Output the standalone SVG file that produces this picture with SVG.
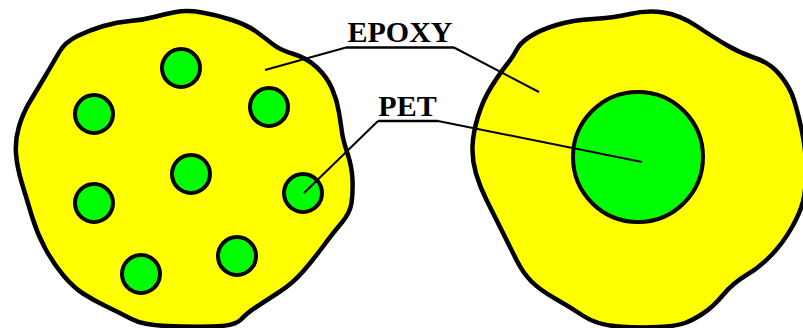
<svg xmlns="http://www.w3.org/2000/svg" width="803" height="328" viewBox="0 0 803 328">
<style>
.blob{fill:#ffff00;stroke:#000;stroke-width:4.5;stroke-linejoin:round}
.pet{fill:#00ff00;stroke:#000;stroke-width:4}
.lead{stroke:#000;stroke-width:2;fill:none}
.ul{stroke:#000;stroke-width:2.5}
.lbl{font-family:"Liberation Serif","Times New Roman",serif;font-weight:bold;font-size:30px;fill:#000}
</style>
<rect width="803" height="328" fill="#fff"/>
<g id="composite-dispersed">
<path class="blob" d="M59,52.5 Q65,42 77.5,36 Q90,30 103.5,26 Q117,22 130,21 Q143,20 154,17 Q165,14 176,12 Q187,10 202,12.5 Q217,15 232,20 Q247,25 256,31.5 Q265,38 272.5,44 Q280,50 293.5,54 Q307,58 317,67.5 Q327,77 332,88.5 Q337,100 339,112.5 Q341,125 342,132.5 Q343,140 347.5,153.5 Q352,167 352.5,180 Q353,193 351.5,203 Q350,213 341.5,223 Q333,233 323,246.5 Q313,260 303,271.5 Q293,283 280,291.5 Q267,300 257,306.5 Q247,313 241,319.5 Q235,326 212.5,326.5 Q190,327 166.5,326 Q143,325 131.5,319 Q120,313 106.5,306.5 Q93,300 83,293.5 Q73,287 63,275 Q53,263 45,248 Q37,233 32,216.5 Q27,200 22,183.5 Q17,167 16,153.5 Q15,140 19,126.5 Q23,113 30,101.5 Q37,90 45,76.5 Q53,63 59,52.5 Z"/>
<circle class="pet" cx="181" cy="68" r="19"/>
<circle class="pet" cx="94" cy="114" r="19"/>
<circle class="pet" cx="269" cy="107" r="19"/>
<circle class="pet" cx="191" cy="174" r="19"/>
<circle class="pet" cx="94" cy="203" r="19"/>
<circle class="pet" cx="303" cy="193" r="19"/>
<circle class="pet" cx="237" cy="256" r="19"/>
<circle class="pet" cx="141" cy="274" r="19"/>
</g>
<g id="composite-single">
<path class="blob" d="M516.5,50 Q520,43 530,36.5 Q540,30 556.5,25 Q573,20 593,19 Q613,18 630,14 Q647,10 663.5,12.5 Q680,15 696.5,26 Q713,37 726.5,45 Q740,53 755,58 Q770,63 780,75 Q790,87 794,100 Q798,113 802,131.5 Q806,150 806,170 Q806,190 803,201.5 Q800,213 791.5,228 Q783,243 771.5,255 Q760,267 746.5,275 Q733,283 723,295 Q713,307 703,313.5 Q693,320 685,323 Q677,326 658.5,327 Q640,328 618.5,326.5 Q597,325 583.5,316 Q570,307 555,298.5 Q540,290 531.5,281.5 Q523,273 516.5,260 Q510,247 501.5,230 Q493,213 486.5,200 Q480,187 476,173.5 Q472,160 472.5,146.5 Q473,133 478,116.5 Q483,100 491.5,86.5 Q500,73 506.5,65 Q513,57 516.5,50 Z"/>
<circle class="pet" cx="638" cy="157" r="65"/>
</g>
<g id="label-epoxy">
<text class="lbl" x="400" y="42" text-anchor="middle">EPOXY</text>
<line class="ul" x1="346" y1="47.5" x2="454" y2="47.5"/>
</g>
<g id="label-pet">
<text class="lbl" x="407.5" y="116" text-anchor="middle">PET</text>
<line class="ul" x1="378" y1="121" x2="438" y2="121"/>
</g>
<g id="connectors">
<line class="lead" x1="346" y1="47.5" x2="265" y2="70"/>
<line class="lead" x1="454" y1="47.5" x2="539" y2="92"/>
<line class="lead" x1="378" y1="121" x2="304" y2="193"/>
<line class="lead" x1="438" y1="121" x2="642" y2="162"/>
</g>
</svg>
